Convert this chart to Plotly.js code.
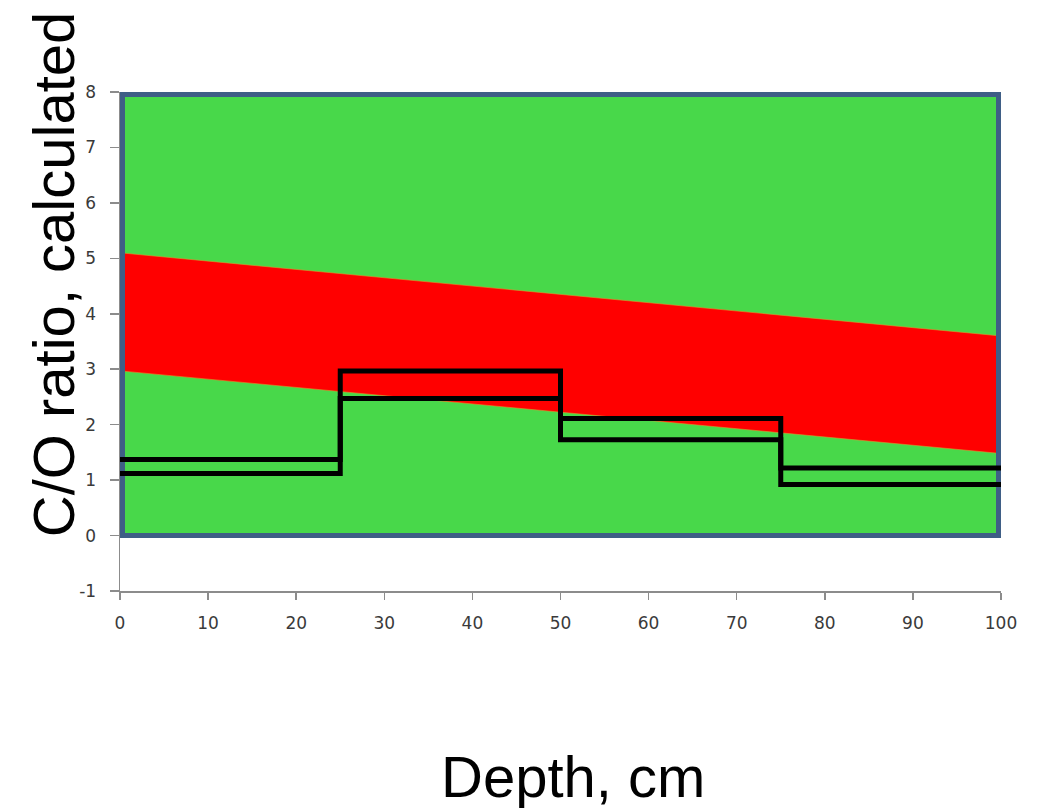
<!DOCTYPE html>
<html>
<head>
<meta charset="utf-8">
<script src="https://cdn.plot.ly/plotly-3.0.1.min.js"></script>
<style>html,body{margin:0;padding:0;background:#fff;}#chart{width:1045px;height:808px;}</style>
</head>
<body>
<div id="chart"></div>
<script>
// Depth (cm) breakpoints of the step profiles
var depth = [0, 25, 50, 75, 100];
// Two calculated C/O ratio step profiles
var upperProfile = [1.37, 2.97, 2.11, 1.22, 1.22];
var lowerProfile = [1.12, 2.47, 1.73, 0.92, 0.92];
// Red band (edges at depth 0 and 100)
var bandDepth = [0, 100];
var bandTop = [5.1, 3.6];
var bandBottom = [2.97, 1.48];
// Green background region
var regionDepth = [0, 100, 100, 0, 0];
var regionRatio = [0, 0, 8, 8, 0];
// Axis ticks
var xTicks = [0, 10, 20, 30, 40, 50, 60, 70, 80, 90, 100];
var yTicks = [-1, 0, 1, 2, 3, 4, 5, 6, 7, 8];
// Titles
var xTitle = 'Depth, cm';
var yTitle = 'C/O ratio, calculated';

var borderColor = '#3f5e86';
var traces = [
  {x: regionDepth, y: regionRatio, type: 'scatter', mode: 'lines', fill: 'toself',
   fillcolor: '#48d84a', line: {width: 0, color: '#48d84a'}, hoverinfo: 'skip', showlegend: false},
  {x: bandDepth, y: bandBottom, type: 'scatter', mode: 'lines',
   line: {width: 0.6, color: '#d89a30'}, showlegend: false},
  {x: bandDepth, y: bandTop, type: 'scatter', mode: 'lines', fill: 'tonexty',
   fillcolor: '#ff0000', line: {width: 0.6, color: '#d89a30'}, showlegend: false},
  // left, top and right edges of the green region (half clipped by the plot edge)
  {x: regionDepth.slice(1).reverse(), y: regionRatio.slice(1).reverse(), type: 'scatter', mode: 'lines',
   line: {width: 10, color: borderColor}, hoverinfo: 'skip', showlegend: false},
  // bottom edge
  {x: regionDepth.slice(0, 2), y: regionRatio.slice(0, 2), type: 'scatter', mode: 'lines',
   line: {width: 5, color: borderColor}, hoverinfo: 'skip', showlegend: false},
  {x: depth, y: upperProfile, type: 'scatter', mode: 'lines',
   line: {shape: 'hv', width: 5, color: '#000'}, showlegend: false},
  {x: depth, y: lowerProfile, type: 'scatter', mode: 'lines',
   line: {shape: 'hv', width: 5, color: '#000'}, showlegend: false}
];

var tickFont = {family: 'DejaVu Sans', size: 17, color: '#3a3a3a'};
var titleFont = {family: 'Liberation Sans, Arial', size: 58, color: '#000'};
var layout = {
  width: 1045, height: 808,
  margin: {l: 120, r: 44, t: 92, b: 217},
  paper_bgcolor: '#fff', plot_bgcolor: '#fff',
  showlegend: false,
  xaxis: {
    range: [0, 100], tickvals: xTicks, ticktext: xTicks.map(String),
    showgrid: false, zeroline: false, showline: true, linecolor: '#8c8c8c', linewidth: 1.5,
    ticks: 'outside', ticklen: 7, tickcolor: '#8c8c8c', tickwidth: 1.5,
    tickfont: tickFont, ticklabelstandoff: 9
  },
  yaxis: {
    range: [-1, 8], tickvals: yTicks, ticktext: yTicks.map(String),
    showgrid: false, zeroline: false, showline: true, linecolor: '#8c8c8c', linewidth: 1.5,
    ticks: 'outside', ticklen: 9, tickcolor: '#8c8c8c', tickwidth: 1.5,
    tickfont: tickFont, ticklabelstandoff: 10
  },
  annotations: [
    {text: xTitle, xref: 'paper', yref: 'paper', x: 0.5142, y: -0.3727,
     xanchor: 'center', yanchor: 'middle', showarrow: false, font: titleFont},
    {text: yTitle, xref: 'paper', yref: 'paper', x: -0.076, y: 0.633, textangle: -90,
     xanchor: 'center', yanchor: 'middle', showarrow: false, font: titleFont}
  ]
};
Plotly.newPlot('chart', traces, layout, {displayModeBar: false, staticPlot: true});
</script>
</body>
</html>
